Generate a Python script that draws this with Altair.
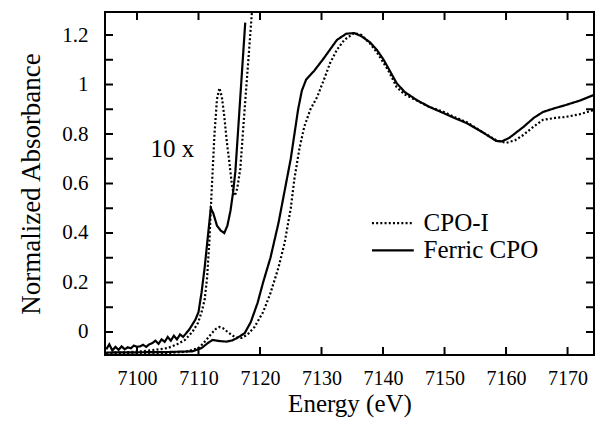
import altair as alt
import pandas as pd

# ---- data ----
ferric_E = [7095, 7100, 7105, 7109, 7110.5, 7111.5, 7112.3, 7113.2, 7114.5, 7115.5, 7116.3,
            7117.5, 7118.5, 7119.6, 7120.5, 7121.7, 7123, 7124, 7125, 7125.6, 7126.2, 7126.8,
            7127.5, 7128.8, 7130.4, 7132.5, 7134, 7135.3, 7136.5, 7137.9, 7139, 7140.1, 7141,
            7142.2, 7143.5, 7145.5, 7147.5, 7149.8, 7151.5, 7153.6, 7156, 7158.4, 7159.3,
            7160.5, 7162.8, 7164.5, 7166, 7168, 7169.7, 7172, 7174.3]
ferric_A = [-0.083, -0.082, -0.081, -0.078, -0.065, -0.045, -0.032, -0.036, -0.039, -0.034, -0.024,
            -0.005, 0.04, 0.117, 0.2, 0.30, 0.44, 0.57, 0.70, 0.80, 0.90, 0.975,
            1.02, 1.055, 1.107, 1.18, 1.205, 1.208, 1.195, 1.17, 1.14, 1.10, 1.06,
            1.006, 0.97, 0.937, 0.91, 0.885, 0.866, 0.844, 0.81, 0.772, 0.77,
            0.784, 0.828, 0.865, 0.889, 0.905, 0.917, 0.935, 0.958]

cpoi_E = [7095, 7100, 7105, 7108, 7110, 7111, 7112, 7112.8, 7113.4, 7114, 7115, 7116, 7117,
          7118, 7119.1, 7120.5, 7121.7, 7123, 7124, 7125, 7125.6, 7126.4, 7127.2, 7128.2,
          7129.3, 7130.4, 7131.4, 7132.5, 7133.7, 7135.3, 7136.5, 7137.9, 7139, 7140.1, 7141,
          7142.2, 7143.5, 7145.5, 7147.5, 7149.8, 7151.5, 7153.6, 7156, 7158.4, 7160, 7161.5,
          7162.8, 7164.5, 7166, 7168, 7169.7, 7172, 7174.3]
cpoi_A = [-0.086, -0.086, -0.085, -0.08, -0.065, -0.04, -0.01, 0.012, 0.02, 0.015, -0.005, -0.022, -0.024,
          -0.01, 0.02, 0.08, 0.157, 0.26, 0.36, 0.50, 0.62, 0.74, 0.83, 0.90,
          0.95, 1.02, 1.087, 1.14, 1.18, 1.208, 1.20, 1.165, 1.13, 1.087, 1.05,
          0.99, 0.96, 0.935, 0.91, 0.89, 0.87, 0.848, 0.81, 0.775, 0.764, 0.775,
          0.796, 0.83, 0.857, 0.865, 0.869, 0.88, 0.897]

# 10x magnified pre-edge traces
ferric10_E = [7095, 7095.5, 7096, 7096.5, 7097, 7097.5, 7098, 7098.5, 7099, 7099.5, 7100, 7100.5,
              7101, 7101.5, 7102, 7102.5, 7103, 7103.5, 7104, 7104.5, 7105, 7105.5, 7106, 7106.5,
              7107, 7107.5, 7108, 7108.5, 7109, 7109.5, 7110, 7110.5, 7111, 7111.5, 7112, 7112.4,
              7113, 7113.6, 7114.2, 7114.7, 7115.2, 7115.6, 7116, 7116.8, 7117.6]
ferric10_A = [-0.07, -0.05, -0.075, -0.06, -0.072, -0.058, -0.07, -0.062, -0.066, -0.055, -0.06, -0.058,
              -0.052, -0.06, -0.05, -0.045, -0.035, -0.048, -0.03, -0.04, -0.02, -0.035, -0.015, -0.03,
              -0.01, -0.02, -0.005, 0.01, 0.03, 0.05, 0.08, 0.16, 0.26, 0.38, 0.50, 0.48,
              0.43, 0.41, 0.40, 0.43, 0.49, 0.56, 0.65, 0.95, 1.25]

cpoi10_E = [7095, 7098, 7101, 7103, 7105, 7106.5, 7107.8, 7109, 7109.9, 7110.5, 7111, 7111.4,
            7111.8, 7112.1, 7112.6, 7113, 7113.4, 7113.8, 7114.2, 7114.6, 7115, 7115.5, 7115.9,
            7116.3, 7116.8, 7117.5, 7118.2, 7118.8]
cpoi10_A = [-0.085, -0.082, -0.078, -0.072, -0.065, -0.05, -0.032, 0.0, 0.036, 0.08, 0.13, 0.22,
            0.38, 0.55, 0.80, 0.94, 0.986, 0.95, 0.87, 0.77, 0.69, 0.58, 0.55,
            0.58, 0.66, 0.9, 1.13, 1.33]

series_names = ["CPO-I", "Ferric CPO"]
x_ticks = [7100, 7110, 7120, 7130, 7140, 7150, 7160, 7170]
y_labels = [0, 0.2, 0.4, 0.6, 0.8, 1, 1.2]
y_ticks = [0, 0.1, 0.2, 0.3, 0.4, 0.5, 0.6, 0.7, 0.8, 0.9, 1.0, 1.1, 1.2]
x_domain = [7094.8, 7174.3]
y_domain = [-0.093, 1.293]
note_text = ["10 x"]
note_E = [7102.2]
note_A = [0.74]
# legend placement in data units
legend_E0 = [7138.2, 7138.2]
legend_E1 = [7145.0, 7145.0]
legend_text_E = [7146.6, 7146.6]
legend_A = [0.44, 0.33]

# ---- build tables ----
rows = []
for E, A, s, p in [(cpoi_E, cpoi_A, "CPO-I", "main"), (ferric_E, ferric_A, "Ferric CPO", "main"),
                   (cpoi10_E, cpoi10_A, "CPO-I", "x10"), (ferric10_E, ferric10_A, "Ferric CPO", "x10")]:
    for i, (e, a) in enumerate(zip(E, A)):
        rows.append({"E": e, "A": a, "series": s, "part": p, "order": i})
df = pd.DataFrame(rows)
leg = pd.DataFrame({"series": series_names, "E0": legend_E0, "E1": legend_E1,
                    "Et": legend_text_E, "A": legend_A})

W, H = 489, 343
FONT = "'Liberation Serif', 'Times New Roman', Times, 'DejaVu Serif', serif"
xs = alt.Scale(domain=x_domain, nice=False, zero=False)
ys = alt.Scale(domain=y_domain, nice=False, zero=False)
dash = alt.Scale(domain=series_names, range=[[2, 2.2], [1, 0]])

lines = alt.Chart(df).mark_line(color="black", strokeWidth=2.2, clip=True, strokeCap="butt").encode(
    x=alt.X("E:Q", scale=xs, title="Energy (eV)",
            axis=alt.Axis(values=x_ticks, ticks=False, domain=False, grid=False, format="d",
                          labelFont=FONT, labelFontSize=20, labelColor="black", labelPadding=13,
                          titleFont=FONT, titleFontSize=25, titleFontWeight="normal",
                          titleColor="black", titlePadding=3)),
    y=alt.Y("A:Q", scale=ys, title="Normalized Absorbance",
            axis=alt.Axis(values=y_labels, ticks=False, domain=False, grid=False,
                          labelExpr="datum.value == 0 ? '0' : datum.value == 1 ? '1' : format(datum.value, '.1f')",
                          labelFont=FONT, labelFontSize=21, labelColor="black", labelPadding=17,
                          titleFont=FONT, titleFontSize=27, titleFontWeight="normal",
                          titleColor="black", titlePadding=16)),
    strokeDash=alt.StrokeDash("series:N", scale=dash, legend=None),
    detail="part:N",
    order="order:Q",
)

leg_lines = alt.Chart(leg).mark_rule(color="black", strokeWidth=2.2, strokeCap="butt").encode(
    x=alt.X("E0:Q", scale=xs), x2="E1:Q", y=alt.Y("A:Q", scale=ys),
    strokeDash=alt.StrokeDash("series:N", scale=dash, legend=None))
leg_text = alt.Chart(leg).mark_text(font=FONT, fontSize=25, align="left", baseline="middle",
                                    color="black").encode(
    x=alt.X("Et:Q", scale=xs), y=alt.Y("A:Q", scale=ys), text="series:N")

ydf = pd.DataFrame({"v": y_ticks})
xdf = pd.DataFrame({"e": x_ticks})
left_t = alt.Chart(ydf).mark_rule(color="black", strokeWidth=2).encode(
    y=alt.Y("v:Q", scale=ys), x=alt.value(0), x2=alt.value(8))
right_t = alt.Chart(ydf).mark_rule(color="black", strokeWidth=2).encode(
    y=alt.Y("v:Q", scale=ys), x=alt.value(W - 8), x2=alt.value(W))
top_t = alt.Chart(xdf).mark_rule(color="black", strokeWidth=2).encode(
    x=alt.X("e:Q", scale=xs), y=alt.value(0), y2=alt.value(8))
bot_t = alt.Chart(xdf).mark_rule(color="black", strokeWidth=2).encode(
    x=alt.X("e:Q", scale=xs), y=alt.value(H - 8), y2=alt.value(H))

frame = alt.Chart(pd.DataFrame({"k": [0]})).mark_rect(
    fill=None, fillOpacity=0, stroke="black", strokeWidth=2).encode(
    x=alt.value(0), x2=alt.value(W), y=alt.value(0), y2=alt.value(H))

note = alt.Chart(pd.DataFrame({"E": note_E, "A": note_A, "t": note_text})).mark_text(
    font=FONT, fontSize=25, align="left", baseline="middle", color="black").encode(
    x=alt.X("E:Q", scale=xs), y=alt.Y("A:Q", scale=ys), text="t:N")

chart = alt.layer(lines, leg_lines, leg_text, left_t, right_t, top_t, bot_t, frame, note).properties(
    width=W, height=H,
    autosize=alt.AutoSizeParams(type="none"),
    padding={"left": 97, "top": 4, "right": 1, "bottom": 65},
).configure_view(stroke=None).configure(
    background="white", font=FONT
).configure_axis(labelFont=FONT, titleFont=FONT).configure_text(font=FONT)

chart.save("out.html", embed_options={"renderer": "svg", "actions": False})
